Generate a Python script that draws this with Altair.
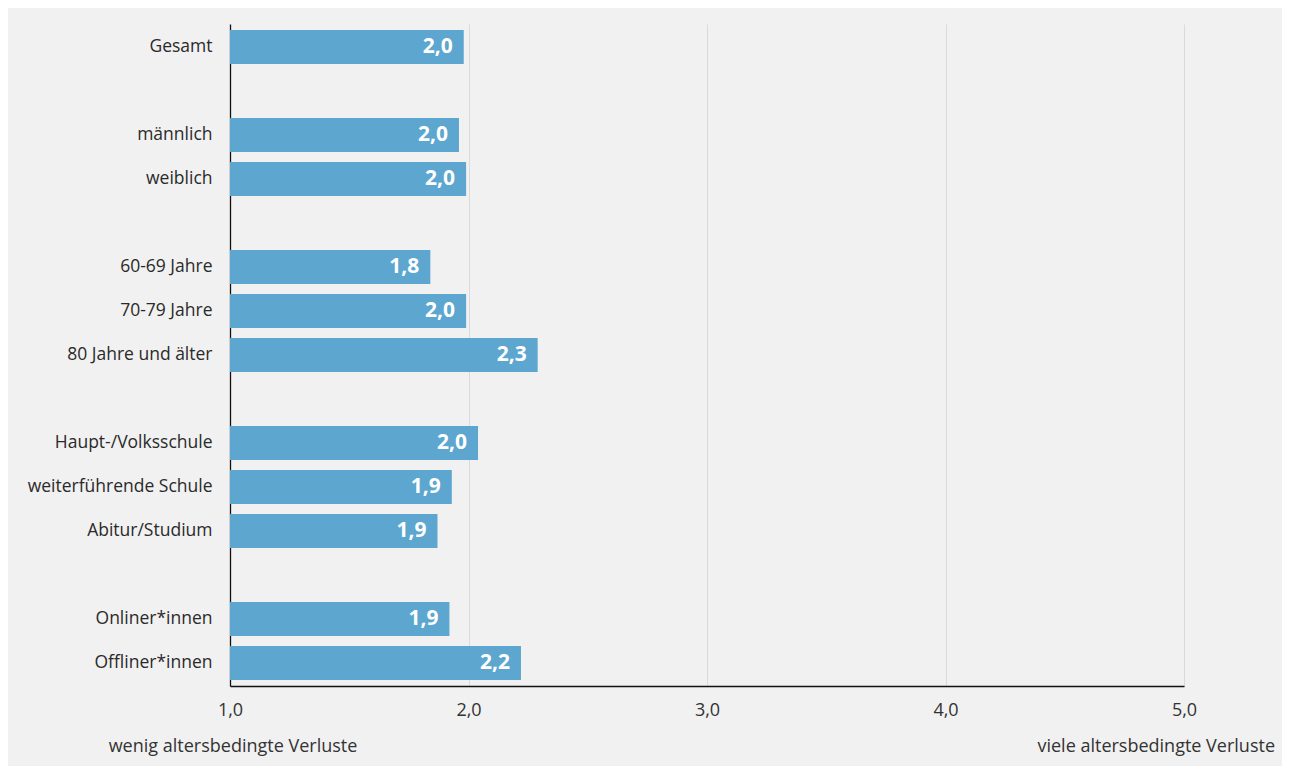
import altair as alt
import pandas as pd

categories = ["Gesamt", "männlich", "weiblich", "60-69 Jahre", "70-79 Jahre",
              "80 Jahre und älter", "Haupt-/Volksschule", "weiterführende Schule",
              "Abitur/Studium", "Onliner*innen", "Offliner*innen"]
values = [1.98, 1.96, 1.99, 1.84, 1.99, 2.29, 2.04, 1.93, 1.87, 1.92, 2.22]
row_order = ["Gesamt", "gap1", "männlich", "weiblich", "gap2", "60-69 Jahre",
             "70-79 Jahre", "80 Jahre und älter", "gap3", "Haupt-/Volksschule",
             "weiterführende Schule", "Abitur/Studium", "gap4", "Onliner*innen",
             "Offliner*innen"]
x_ticks = [1, 2, 3, 4, 5]
left_note = "wenig altersbedingte Verluste"
right_note = "viele altersbedingte Verluste"

df = pd.DataFrame({"cat": categories, "val": values})
df["label"] = [f"{v:.1f}".replace(".", ",") for v in values]
df["start"] = 1.0

FONT = "Open Sans"
BAR = "#5ca6d0"

x_scale = alt.Scale(domain=[1, 5], nice=False, zero=False)
y_scale = alt.Scale(domain=row_order, paddingInner=0.23, paddingOuter=0.137)

base = alt.Chart(df)

bars = base.mark_bar(color=BAR).encode(
    x=alt.X("start:Q", scale=x_scale,
            axis=alt.Axis(values=x_ticks, title=None, grid=True, gridColor="#dadada",
                          gridWidth=1, domainColor="#111111", domainWidth=1.3,
                          ticks=False, labelPadding=15, labelFontSize=18,
                          labelFlush=False,
                          labelColor="#333333", labelFont=FONT,
                          labelExpr="replace(format(datum.value, '.1f'), '.', ',')")),
    x2="val:Q",
    y=alt.Y("cat:N", scale=y_scale, sort=row_order,
            axis=alt.Axis(title=None, ticks=False, domainColor="#111111", domainWidth=1.3,
                          labelPadding=18, labelFontSize=17.5, labelColor="#2a2a2a",
                          labelFont=FONT, grid=False, labelLimit=300,
                          labelExpr="indexof(datum.value, 'gap') == 0 ? '' : datum.value")),
)

text = base.mark_text(align="right", baseline="middle", dx=-11, color="white",
                      fontWeight="bold", fontSize=21, font=FONT).encode(
    x=alt.X("val:Q", scale=x_scale),
    y=alt.Y("cat:N", scale=y_scale, sort=row_order),
    text="label:N",
)

notes = alt.Chart(pd.DataFrame({"t": [left_note]})).mark_text(
    align="center", baseline="middle", fontSize=18, color="#333333", font=FONT
).encode(x=alt.value(3), y=alt.value(723), text="t:N")

notes2 = alt.Chart(pd.DataFrame({"t": [right_note]})).mark_text(
    align="right", baseline="middle", fontSize=18, color="#333333", font=FONT
).encode(x=alt.value(1045), y=alt.value(723), text="t:N")

chart = alt.layer(bars, text, notes, notes2).properties(
    width=954, height=662,
    padding={"left": 222, "top": 16, "right": 98, "bottom": 80},
    autosize=alt.AutoSizeParams(type="none"),
    background="#f1f1f1",
).configure_view(stroke=None)

chart.save("out.html", embed_options={"renderer": "svg", "actions": False})
